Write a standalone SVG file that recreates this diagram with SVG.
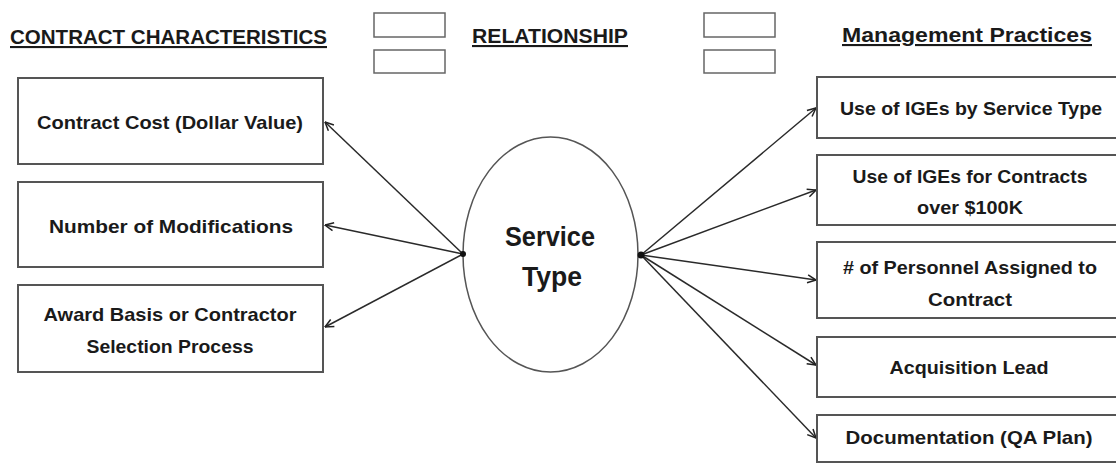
<svg xmlns="http://www.w3.org/2000/svg" width="1116" height="464" viewBox="0 0 1116 464">
<defs>
<marker id="arr" viewBox="0 0 10 10" refX="9.5" refY="5" markerWidth="10" markerHeight="10" markerUnits="userSpaceOnUse" orient="auto">
<path d="M1,1 L9.5,5 L1,9" fill="none" stroke="#222" stroke-width="1.5"/>
</marker>
</defs>
<style>
text{font-family:"Liberation Sans",Arial,sans-serif;font-weight:bold;fill:#1a1a1a}
.t{font-size:18.5px;text-anchor:middle}
.h{font-size:21px;text-decoration:underline}
.box{fill:#fff;stroke:#555;stroke-width:2}
.small{fill:#fff;stroke:#666;stroke-width:1.5}
.c{stroke:#2a2a2a;stroke-width:1.5;fill:none;marker-end:url(#arr)}
</style>
<rect width="1116" height="464" fill="#fff"/>
<g id="headers">
<text class="h" x="10" y="44" textLength="317" lengthAdjust="spacingAndGlyphs">CONTRACT CHARACTERISTICS</text>
<text class="h" x="472" y="43" textLength="156" lengthAdjust="spacingAndGlyphs">RELATIONSHIP</text>
<text class="h" x="842" y="42" textLength="250" lengthAdjust="spacingAndGlyphs">Management Practices</text>
<rect class="small" x="374" y="13" width="71" height="24"/>
<rect class="small" x="374" y="50" width="71" height="23"/>
<rect class="small" x="704" y="13" width="71" height="24"/>
<rect class="small" x="704" y="50" width="71" height="23"/>
</g>
<g id="connectors">
<line class="c" x1="463" y1="254" x2="325" y2="122"/>
<line class="c" x1="463" y1="254" x2="325" y2="225"/>
<line class="c" x1="463" y1="254" x2="325" y2="327"/>
<line class="c" x1="641" y1="255" x2="816" y2="108"/>
<line class="c" x1="641" y1="255" x2="816" y2="190"/>
<line class="c" x1="641" y1="255" x2="816" y2="280"/>
<line class="c" x1="641" y1="255" x2="816" y2="365"/>
<line class="c" x1="641" y1="255" x2="816" y2="438"/>
</g>
<g id="service-type">
<ellipse cx="550.5" cy="254.5" rx="87.5" ry="117.5" fill="#fff" stroke="#555" stroke-width="1.5"/>
<circle cx="463" cy="254" r="3" fill="#111"/>
<circle cx="641" cy="255" r="3.5" fill="#111"/>
<text x="550" y="246" style="font-size:28px;text-anchor:middle" textLength="90" lengthAdjust="spacingAndGlyphs">Service</text>
<text x="552" y="286" style="font-size:28px;text-anchor:middle" textLength="60" lengthAdjust="spacingAndGlyphs">Type</text>
</g>
<g id="contract-cost">
<rect class="box" x="18" y="78" width="305" height="86"/>
<text class="t" x="170" y="129" textLength="266" lengthAdjust="spacingAndGlyphs">Contract Cost (Dollar Value)</text>
</g>
<g id="modifications">
<rect class="box" x="18" y="182" width="305" height="85"/>
<text class="t" x="171" y="233" textLength="244" lengthAdjust="spacingAndGlyphs">Number of Modifications</text>
</g>
<g id="award-basis">
<rect class="box" x="18" y="285" width="305" height="87"/>
<text class="t" x="170" y="321" textLength="253" lengthAdjust="spacingAndGlyphs">Award Basis or Contractor</text>
<text class="t" x="170" y="353" textLength="167" lengthAdjust="spacingAndGlyphs">Selection Process</text>
</g>
<g id="iges-service">
<rect class="box" x="817" y="77" width="305" height="61"/>
<text class="t" x="971" y="115" textLength="262" lengthAdjust="spacingAndGlyphs">Use of IGEs by Service Type</text>
</g>
<g id="iges-contracts">
<rect class="box" x="817" y="155" width="305" height="70"/>
<text class="t" x="970" y="183" textLength="235" lengthAdjust="spacingAndGlyphs">Use of IGEs for Contracts</text>
<text class="t" x="970" y="214" textLength="106" lengthAdjust="spacingAndGlyphs">over $100K</text>
</g>
<g id="personnel">
<rect class="box" x="817" y="242" width="305" height="76"/>
<text class="t" x="970" y="274" textLength="254" lengthAdjust="spacingAndGlyphs"># of Personnel Assigned to</text>
<text class="t" x="970" y="306" textLength="84" lengthAdjust="spacingAndGlyphs">Contract</text>
</g>
<g id="acquisition-lead">
<rect class="box" x="817" y="337" width="305" height="60"/>
<text class="t" x="969" y="374" textLength="159" lengthAdjust="spacingAndGlyphs">Acquisition Lead</text>
</g>
<g id="documentation">
<rect class="box" x="817" y="415" width="305" height="47"/>
<text class="t" x="969" y="444" textLength="247" lengthAdjust="spacingAndGlyphs">Documentation (QA Plan)</text>
</g>
</svg>
